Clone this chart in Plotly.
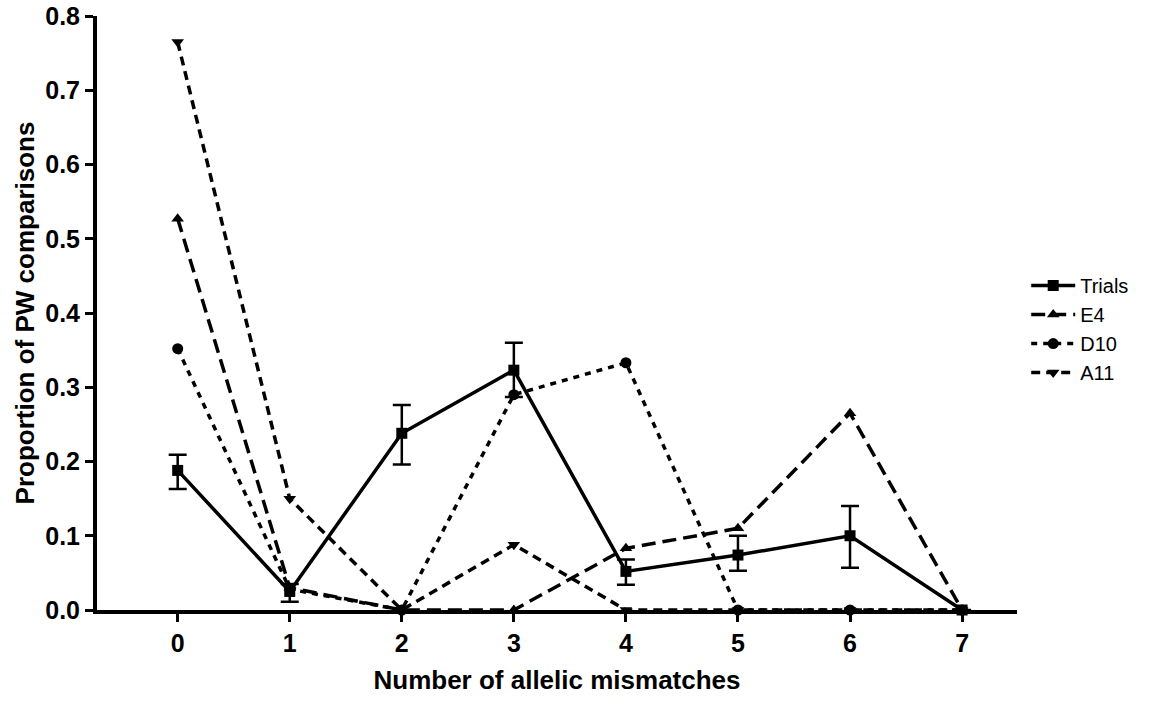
import plotly.graph_objects as go

mismatches = [0, 1, 2, 3, 4, 5, 6, 7]
trials = [0.188, 0.025, 0.238, 0.323, 0.052, 0.074, 0.100, 0.0]
trials_err_plus = [0.021, 0.010, 0.038, 0.037, 0.016, 0.026, 0.040, 0.0]
trials_err_minus = [0.025, 0.014, 0.042, 0.036, 0.018, 0.021, 0.043, 0.0]
e4 = [0.527, 0.030, 0.0, 0.0, 0.083, 0.110, 0.265, 0.0]
d10 = [0.352, 0.028, 0.0, 0.290, 0.333, 0.0, 0.0, 0.0]
a11 = [0.765, 0.150, 0.0, 0.088, 0.0, 0.0, 0.0, 0.0]

FONT = "Liberation Sans"

fig = go.Figure()
fig.add_trace(go.Scatter(
    x=mismatches, y=trials, name="Trials", mode="lines+markers",
    line=dict(color="black", width=3.5),
    marker=dict(symbol="square", size=11, color="black"),
    error_y=dict(type="data", array=trials_err_plus, arrayminus=trials_err_minus,
                 color="black", thickness=2.5, width=9),
    cliponaxis=False))
fig.add_trace(go.Scatter(
    x=mismatches, y=e4, name="E4", mode="lines+markers",
    line=dict(color="black", width=3.5, dash="14px,7px"),
    marker=dict(symbol="triangle-up", size=11, color="black"),
    cliponaxis=False))
fig.add_trace(go.Scatter(
    x=mismatches, y=d10, name="D10", mode="lines+markers",
    line=dict(color="black", width=3.5, dash="6px,6px"),
    marker=dict(symbol="circle", size=11, color="black"),
    cliponaxis=False))
fig.add_trace(go.Scatter(
    x=mismatches, y=a11, name="A11", mode="lines+markers",
    line=dict(color="black", width=3.5, dash="9px,6px"),
    marker=dict(symbol="triangle-down", size=11, color="black"),
    cliponaxis=False))

fig.update_layout(
    width=1150, height=718,
    paper_bgcolor="white", plot_bgcolor="white",
    margin=dict(l=97, r=133, t=16, b=108),
    font=dict(family=FONT, color="black", size=20),
    showlegend=True,
    legend=dict(x=1.01, y=0.473, xanchor="left", yanchor="middle",
                font=dict(family=FONT, size=20, color="black"),
                bgcolor="rgba(0,0,0,0)", tracegroupgap=0, itemwidth=44),
    xaxis=dict(
        range=[-0.72, 7.49], tickmode="array", tickvals=mismatches,
        ticktext=[str(v) for v in mismatches], automargin=False,
        showgrid=False, zeroline=False, showline=True, linecolor="black", linewidth=4,
        ticks="outside", ticklen=8, tickwidth=3, tickcolor="black",
        ticklabeloverflow="allow",
        tickfont=dict(family=FONT, size=25, color="black", weight="bold"),
        title=dict(text="Number of allelic mismatches", standoff=16,
                   font=dict(family=FONT, size=26, color="black", weight="bold"))),
    yaxis=dict(
        range=[0, 0.8], tickmode="array", automargin=False,
        tickvals=[0, 0.1, 0.2, 0.3, 0.4, 0.5, 0.6, 0.7, 0.8],
        ticktext=["0.0", "0.1", "0.2", "0.3", "0.4", "0.5", "0.6", "0.7", "0.8"],
        showgrid=False, zeroline=False, showline=True, linecolor="black", linewidth=4,
        ticks="outside", ticklen=8, tickwidth=3, tickcolor="black",
        ticklabeloverflow="allow",
        tickfont=dict(family=FONT, size=25, color="black", weight="bold"),
        title=dict(text="Proportion of PW comparisons", standoff=4,
                   font=dict(family=FONT, size=26, color="black", weight="bold"))),
)

fig.write_html("out.html", config={"displayModeBar": False},
               post_script="document.body.style.margin='0px';")
